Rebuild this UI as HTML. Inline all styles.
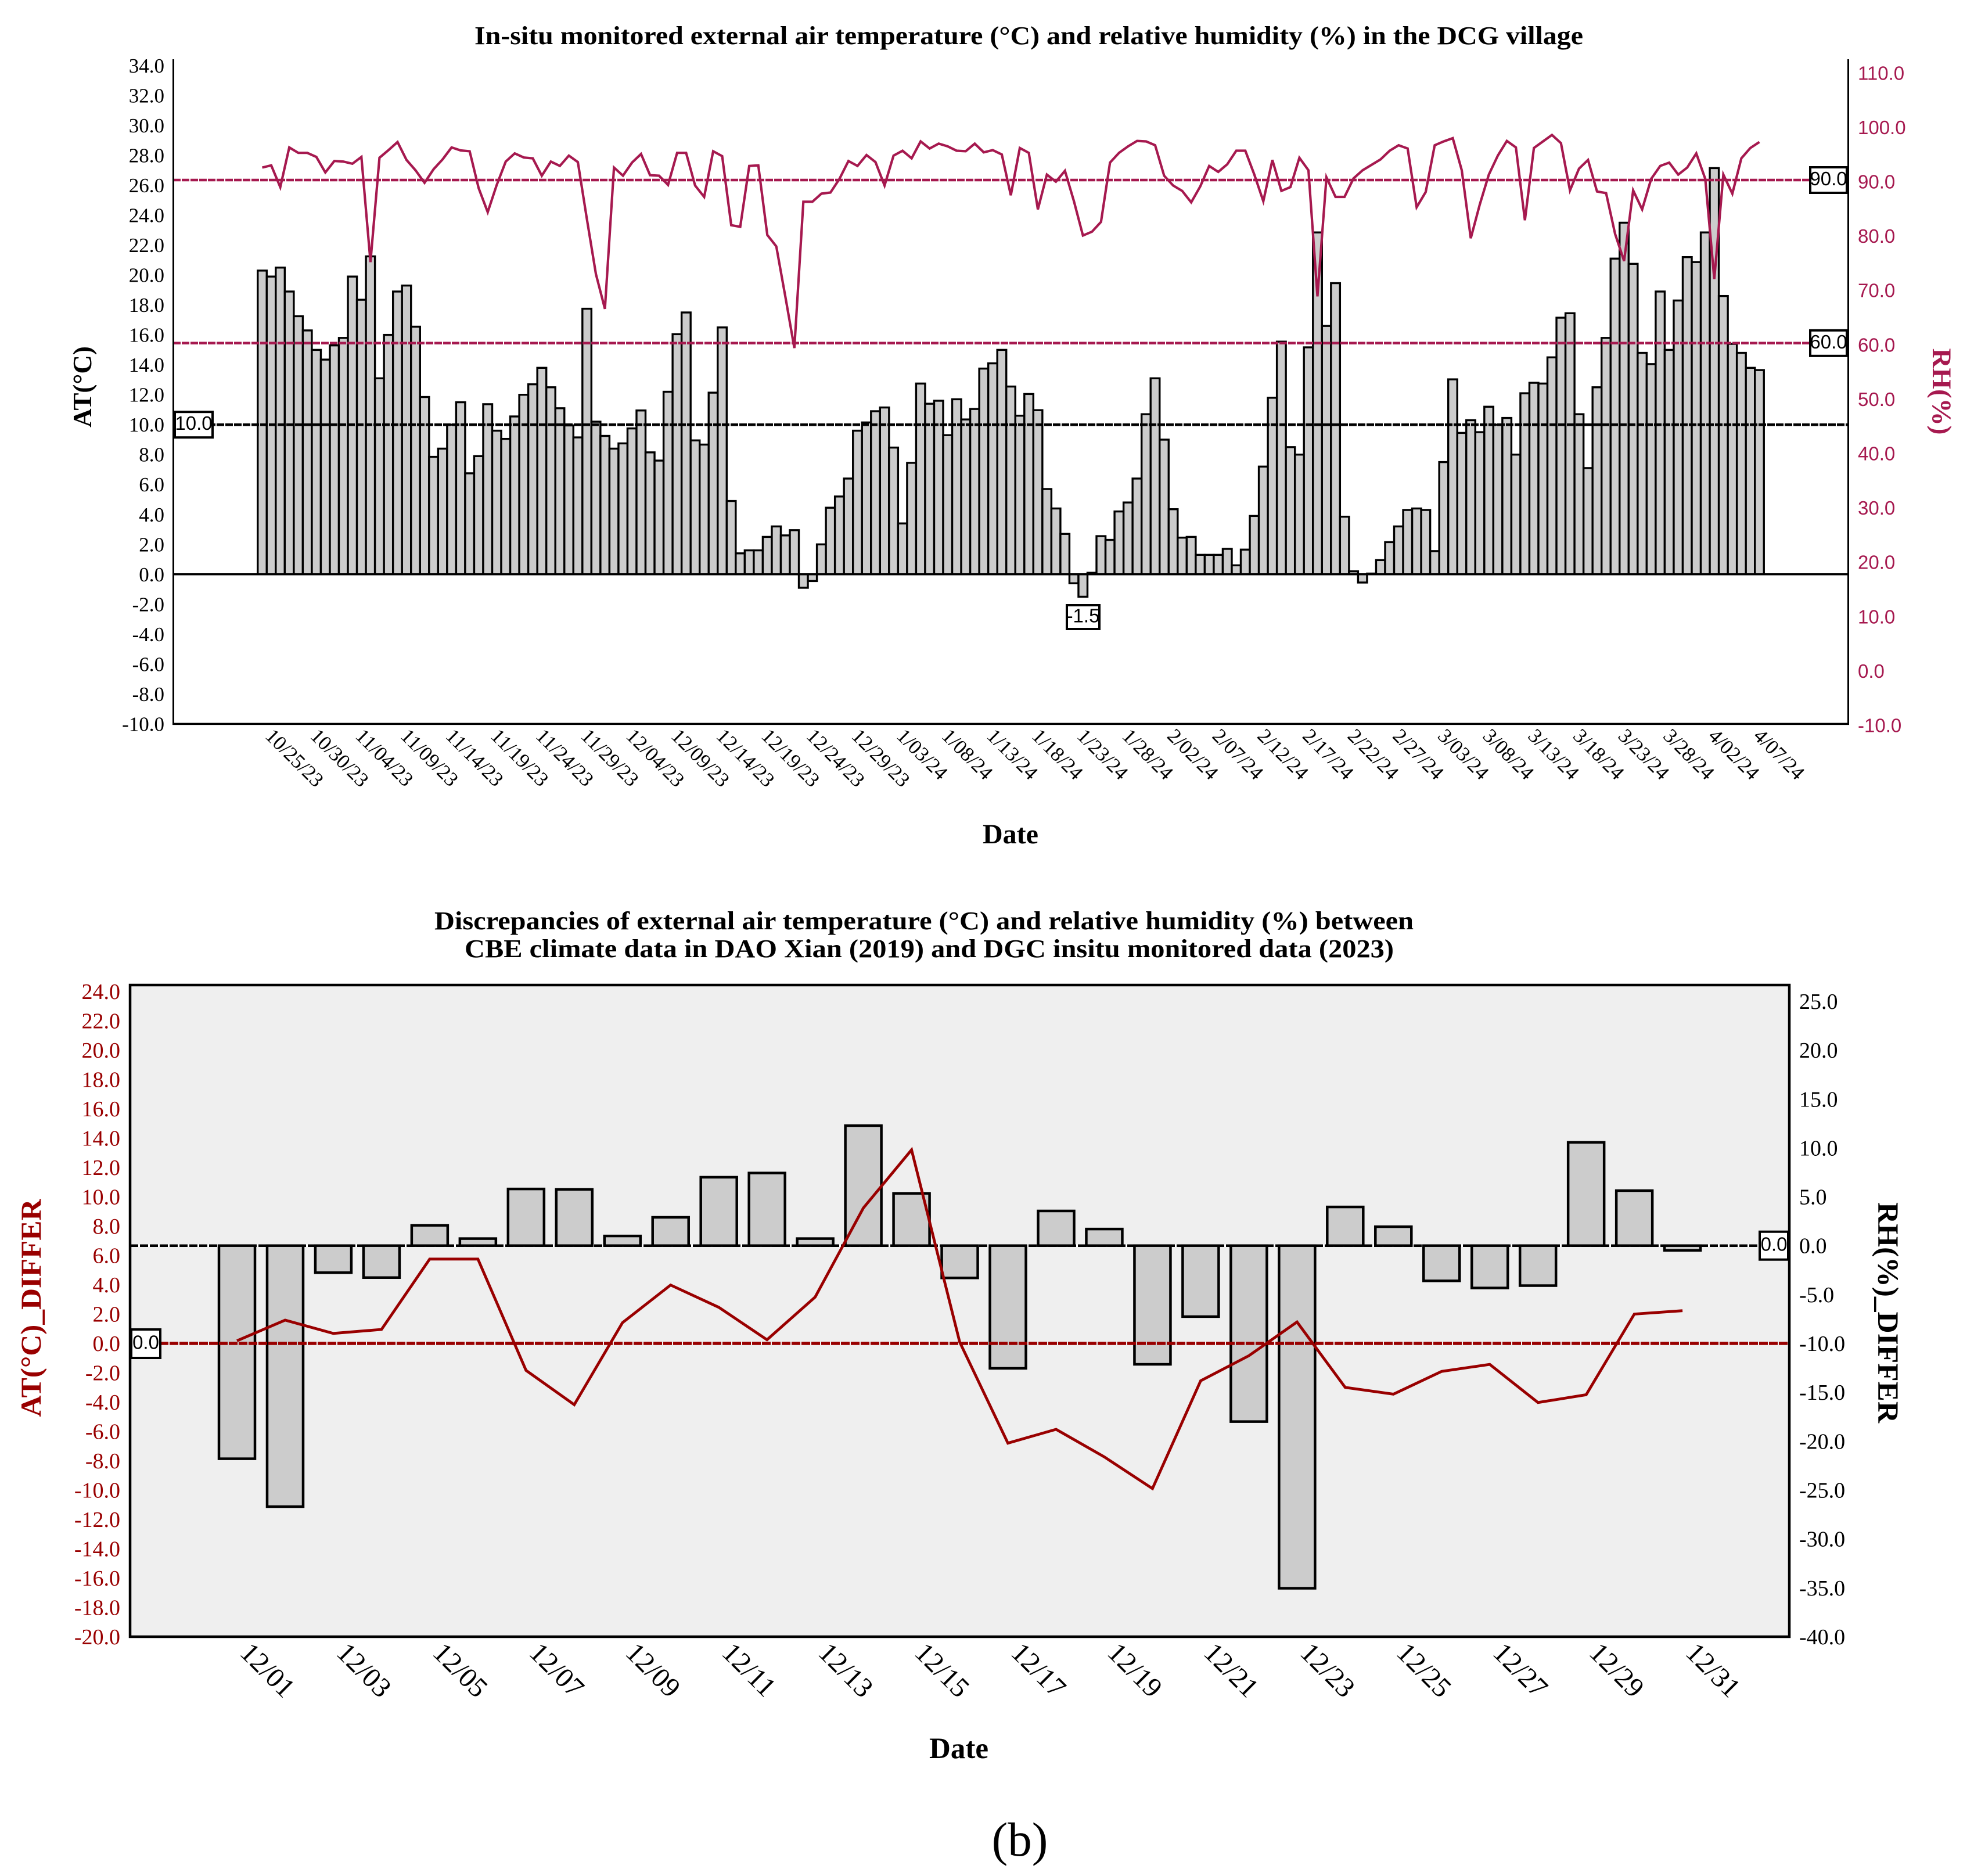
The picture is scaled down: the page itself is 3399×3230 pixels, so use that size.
<!DOCTYPE html>
<html lang="en">
<head>
<meta charset="utf-8">
<title>In-situ air temperature and humidity charts</title>
<style>
html,body{margin:0;padding:0;background:#fff;}
svg{display:block;}
text{font-family:"Liberation Serif","Noto Serif CJK SC",serif;}
.sans{font-family:"Liberation Sans","Noto Sans CJK SC",sans-serif;}
.title{font-weight:bold;fill:#000;}
</style>
</head>
<body>
<svg id="figure" xmlns="http://www.w3.org/2000/svg" width="3399" height="3230" viewBox="0 0 3399 3230">
  <rect x="0" y="0" width="3399" height="3230" fill="#ffffff"/>

  <text class="title" x="817" y="76" font-size="44" textLength="1909" lengthAdjust="spacingAndGlyphs">In-situ monitored external air temperature (°C) and relative humidity (%) in the DCG village</text>
  <text class="title" font-size="45" text-anchor="middle" transform="translate(157,666) rotate(-90)">AT(°C)</text>
  <text class="title" style="fill:#a6194f" font-size="47" text-anchor="middle" transform="translate(3328,674) rotate(90)">RH(%)</text>
  <text class="title" font-size="48" text-anchor="middle" x="1740" y="1452">Date</text>
  <g id="chartA"></g>

  <text class="title" x="748" y="1600" font-size="44" textLength="1686" lengthAdjust="spacingAndGlyphs">Discrepancies of external air temperature (°C) and relative humidity (%) between</text>
  <text class="title" x="800" y="1648" font-size="44" textLength="1600" lengthAdjust="spacingAndGlyphs">CBE climate data in DAO Xian (2019) and DGC insitu monitored data (2023)</text>
  <g id="chartB"></g>
  <text class="title" style="fill:#990000" font-size="50" text-anchor="middle" textLength="375" lengthAdjust="spacingAndGlyphs" transform="translate(70,2252) rotate(-90)">AT(°C)_DIFFER</text>
  <text class="title" font-size="51" text-anchor="middle" textLength="380" lengthAdjust="spacingAndGlyphs" transform="translate(3234,2260) rotate(90)">RH(%)_DIFFER</text>
  <text class="title" font-size="51" text-anchor="middle" x="1651" y="3027">Date</text>
  <text font-size="83" text-anchor="middle" x="1756" y="3195" fill="#000">(b)</text>
</svg>

<script>
// ---------- Top chart data ----------
const topAirTemp = [
  20.3,19.9,20.5,18.9,17.25,16.3,15.0,14.35,15.3,15.8,
  19.9,18.35,21.25,13.1,16.0,18.9,19.3,16.55,11.85,7.85,
  8.4,10.0,11.5,6.75,7.9,11.37,9.6,9.05,10.55,12.0,
  12.7,13.8,12.5,11.1,9.95,9.15,17.75,10.2,9.25,8.4,
  8.75,9.75,10.95,8.15,7.6,12.2,16.05,17.5,8.95,8.67,
  12.14,16.5,4.9,1.4,1.6,1.6,2.5,3.2,2.6,2.95,
  -0.9,-0.45,2.0,4.45,5.2,6.4,9.6,10.15,10.9,11.15,
  8.47,3.4,7.45,12.75,11.4,11.6,9.3,11.7,10.35,11.05,
  13.75,14.1,15.0,12.55,10.6,12.05,10.97,5.7,4.4,2.7,
  -0.6,-1.5,0.1,2.55,2.3,4.2,4.8,6.4,10.7,13.1,
  9.0,4.35,2.45,2.5,1.3,1.3,1.3,1.7,0.6,1.65,
  3.9,7.2,11.8,15.55,8.5,8.0,15.17,22.85,16.6,19.46,
  3.85,0.2,-0.55,0.05,0.95,2.15,3.2,4.3,4.4,4.3,
  1.55,7.5,13.03,9.45,10.3,9.5,11.2,10.0,10.45,8.0,
  12.1,12.8,12.75,14.5,17.15,17.45,10.7,7.1,12.5,15.8,
  21.1,23.5,20.75,14.8,14.05,18.9,15.0,18.3,21.2,20.87,
  22.85,27.15,18.6,15.4,14.8,13.8,13.65
];
const topHumidity = [
  92.3,92.7,88.7,96,95,95,94.25,91.4,93.5,93.4,
  93,94.25,74.9,94.1,95.5,97,93.7,91.8,89.5,92,
  93.8,96,95.45,95.3,88.5,84.1,89.1,93.4,94.9,94.15,
  94,90.8,93.4,92.6,94.5,93.3,82.8,72.7,66.3,92.3,
  90.8,93.2,94.8,90.9,90.8,89.1,95,95,89,86.9,
  95.3,94.4,81.7,81.4,92.6,92.7,79.9,77.8,68.6,59.1,
  86,86,87.5,87.7,90.2,93.5,92.6,94.6,93.3,89,
  94.5,95.4,94,97.1,95.8,96.7,96.2,95.4,95.3,96.7,
  95.1,95.5,94.7,87.2,95.9,95,84.6,91,89.7,91.7,
  86.1,79.8,80.5,82.3,93.2,95,96.2,97.2,97.1,96.4,
  90.8,89,88,85.9,88.8,92.6,91.5,92.9,95.4,95.4,
  91,86.1,93.7,88,88.7,94.1,91.8,68.6,90.5,86.9,
  86.9,90.3,91.8,92.8,93.8,95.4,96.4,95.8,85,87.8,
  96.4,97.1,97.7,91.8,79.3,85.5,91,94.5,97.2,96,
  82.6,95.9,97.1,98.3,96.8,88.1,92.1,93.7,87.9,87.6,
  80.1,75.1,88.1,84.6,90.2,92.6,93.2,91,92.3,94.9,
  90.2,71.8,91,87.5,94,95.9,97
];
const topDateLabels = ["10/25/23","10/30/23","11/04/23","11/09/23","11/14/23","11/19/23","11/24/23","11/29/23","12/04/23","12/09/23","12/14/23","12/19/23","12/24/23","12/29/23","1/03/24","1/08/24","1/13/24","1/18/24","1/23/24","1/28/24","2/02/24","2/07/24","2/12/24","2/17/24","2/22/24","2/27/24","3/03/24","3/08/24","3/13/24","3/18/24","3/23/24","3/28/24","4/02/24","4/07/24"];
const topLeftTicks = [34,32,30,28,26,24,22,20,18,16,14,12,10,8,6,4,2,0,-2,-4,-6,-8,-10];
const topRightTicks = [110,100,90,80,70,60,50,40,30,20,10,0,-10];
const topRhRefs = [90,60];
const topAtRefs = [10];
const topMinLabel = [-1.5];

// ---------- Bottom chart data ----------
const bottomRhDiff = [-21.8,-26.7,-2.76,-3.27,2.08,0.72,5.8,5.76,0.99,2.9,7.0,7.43,0.72,12.28,5.35,-3.3,-12.55,3.55,1.7,-12.14,-7.26,-18,-35.05,3.96,1.94,-3.6,-4.33,-4.09,10.57,5.63,-0.48];
const bottomAtDiff = [0.18,1.59,0.68,0.95,5.75,5.75,-1.84,-4.18,1.41,3.98,2.46,0.25,3.16,9.23,13.2,0.09,-6.8,-5.86,-7.74,-9.9,-2.55,-0.84,1.46,-3,-3.46,-1.91,-1.43,-4.03,-3.5,2.0,2.23];
const bottomDateLabels = ["12/01","12/03","12/05","12/07","12/09","12/11","12/13","12/15","12/17","12/19","12/21","12/23","12/25","12/27","12/29","12/31"];
const bottomLeftTicks = [24,22,20,18,16,14,12,10,8,6,4,2,0,-2,-4,-6,-8,-10,-12,-14,-16,-18,-20];
const bottomRightTicks = [25,20,15,10,5,0,-5,-10,-15,-20,-25,-30,-35,-40];

// ---------- Axis functions ----------
function xTop(i){ return 451.5 + 15.53 * i; }
function yTopAt(v){ return 988.8 - 25.76 * v; }
function yTopRh(v){ return 310 - 9.36 * (v - 90); }
function xBottom(i){ return 408 + 82.97 * i; }
function yBottomAt(v){ return 2313 - 25.25 * v; }
function yBottomRh(v){ return 2144.7 - 16.83 * v; }

const NS = 'http://www.w3.org/2000/svg';
const topG = document.getElementById('chartA');
const botG = document.getElementById('chartB');

function make(tag, parent, props, content){
  const el = document.createElementNS(NS, tag);
  for (const k in props) el.setAttribute(k, props[k]);
  if (content !== undefined) el.textContent = content;
  parent.appendChild(el);
  return el;
}

const CRIMSON = '#a6194f', DARKRED = '#990000';
let el;

// ---------- Top chart ----------
topAirTemp.forEach(function(v, i){
  const y0 = yTopAt(0), y1 = yTopAt(v);
  el = make('rect', topG, {x: xTop(i) - 15.53/2, y: Math.min(y0,y1), width: 15.53, height: Math.abs(y1-y0), fill:'#cccccc', stroke:'#000', 'stroke-width':3.4});
  
  
});

el = make('line', topG, {x1:298, x2:3182, y1:yTopAt(0), y2:yTopAt(0), stroke:'#000','stroke-width':3.5});



topAtRefs.forEach(function(v){
  el = make('line', topG, {x1:298, x2:3182, y1:yTopAt(v), y2:yTopAt(v), stroke:'#000','stroke-width':4.5,'stroke-dasharray':'13 2'});
  
  
});
topRhRefs.forEach(function(v){
  el = make('line', topG, {x1:298, x2:3182, y1:yTopRh(v), y2:yTopRh(v), stroke:CRIMSON,'stroke-width':4.5,'stroke-dasharray':'13 2'});
  
  
});

el = make('polyline', topG, {points: topHumidity.map(function(v,i){ return xTop(i).toFixed(1)+','+yTopRh(v).toFixed(1); }).join(' '), fill:'none', stroke:CRIMSON,'stroke-width':4.2,'stroke-linejoin':'miter'});



el = make('line', topG, {x1:298.5, x2:298.5, y1:102, y2:1248, stroke:'#000','stroke-width':3});


el = make('line', topG, {x1:3182.5, x2:3182.5, y1:102, y2:1248, stroke:'#000','stroke-width':3});


el = make('line', topG, {x1:297, x2:3184, y1:1246.4, y2:1246.4, stroke:'#000','stroke-width':3.5});



topLeftTicks.forEach(function(v){
  el = make('text', topG, {x:283, y:yTopAt(v)+12, 'font-size':35, 'text-anchor':'end', fill:'#000'}, v.toFixed(1));
  
  
});
topRightTicks.forEach(function(v){
  el = make('text', topG, {x:3199, y:yTopRh(v)+14.5, 'font-size':33, fill:CRIMSON, class:'sans'}, v.toFixed(1));
  
  
});
topDateLabels.forEach(function(t, k){
  const x0 = xTop(k*5) + 3.5;
  el = make('text', topG, {'font-size':35, fill:'#000', transform:'translate('+x0+',1269) rotate(45)'}, t);
  
  
});

function valueBox(parent, x, y, w, h, label, fontSize){
  el = make('rect', parent, {x:x, y:y, width:w, height:h, fill:'#fff', stroke:'#000','stroke-width':4});
  
  
  el = make('text', parent, {x:x+w/2, y:y+h/2+9, 'font-size':fontSize, 'text-anchor':'middle', fill:'#000', class:'sans'}, label);
  
  
}
topAtRefs.forEach(function(v){ valueBox(topG, 301, yTopAt(v)-22, 65, 44, v.toFixed(1), 33); });
topRhRefs.forEach(function(v){ valueBox(topG, 3117, yTopRh(v)-22, 63, 44, v.toFixed(1), 33); });
topMinLabel.forEach(function(v){ valueBox(topG, 1837, 1042, 56, 41, v.toFixed(1), 33); });

// ---------- Bottom chart ----------
el = make('rect', botG, {x:224, y:1696, width:2857, height:1122, fill:'#efefef', stroke:'none'});



el = make('line', botG, {x1:224, x2:3081, y1:yBottomRh(0), y2:yBottomRh(0), stroke:'#fff','stroke-width':4.5});


el = make('line', botG, {x1:224, x2:3081, y1:yBottomRh(0), y2:yBottomRh(0), stroke:'#000','stroke-width':4.5,'stroke-dasharray':'14 3'});



bottomRhDiff.forEach(function(v, i){
  const y0 = yBottomRh(0), y1 = yBottomRh(v);
  el = make('rect', botG, {x: xBottom(i) - 31, y: Math.min(y0,y1), width: 62, height: Math.abs(y1-y0), fill:'#cccccc', stroke:'#000','stroke-width':4.5});
  
  
});

el = make('line', botG, {x1:224, x2:3081, y1:yBottomAt(0), y2:yBottomAt(0), stroke:DARKRED,'stroke-width':5.5,'stroke-dasharray':'15 2'});



el = make('polyline', botG, {points: bottomAtDiff.map(function(v,i){ return xBottom(i).toFixed(1)+','+yBottomAt(v).toFixed(1); }).join(' '), fill:'none', stroke:DARKRED,'stroke-width':4.8});



el = make('rect', botG, {x:224, y:1696, width:2857, height:1122, fill:'none', stroke:'#000','stroke-width':4.5});



bottomLeftTicks.forEach(function(v){
  el = make('text', botG, {x:207, y:yBottomAt(v)+13, 'font-size':38, 'text-anchor':'end', fill:DARKRED}, v.toFixed(1));
  
  
});
bottomRightTicks.forEach(function(v){
  el = make('text', botG, {x:3098, y:yBottomRh(v)+13, 'font-size':38, fill:'#000'}, v.toFixed(1));
  
  
});
bottomDateLabels.forEach(function(t, k){
  const x0 = xBottom(k*2) + 3;
  el = make('text', botG, {'font-size':48, fill:'#000', transform:'translate('+x0+',2848) rotate(45)'}, t);
  
  
});

valueBox(botG, 226, yBottomAt(0)-24, 50, 49, (0).toFixed(1), 33);
valueBox(botG, 3030, yBottomRh(0)-24, 49, 48, (0).toFixed(1), 33);
</script>
</body>
</html>
